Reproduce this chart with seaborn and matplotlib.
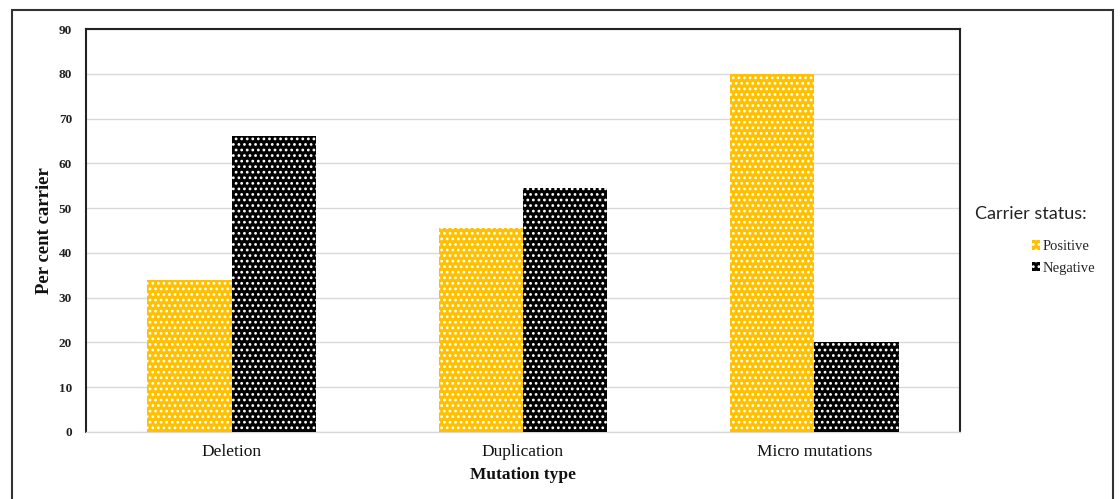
import matplotlib
matplotlib.use("Agg")
import matplotlib.pyplot as plt
import matplotlib.patches as mpatches
import seaborn as sns
import pandas as pd

categories = ["Deletion", "Duplication", "Micro mutations"]
positive = [34, 45.5, 80]
negative = [66, 54.5, 20]
statuses = ["Positive", "Negative"]
yticks = [0, 10, 20, 30, 40, 50, 60, 70, 80, 90]

df = pd.DataFrame({
    "Mutation type": categories * 2,
    "Percent": positive + negative,
    "Carrier status": ["Positive"] * 3 + ["Negative"] * 3,
})

sns.set_theme(style="white")
plt.rcParams["font.family"] = ["Liberation Serif", "DejaVu Serif"]
plt.rcParams["hatch.linewidth"] = 1.2

fig = plt.figure(figsize=(11.2, 4.99), dpi=100)
ax = fig.add_axes([86 / 1120, 1 - 432 / 499, (960 - 86) / 1120, (432 - 29) / 499])

palette = {"Positive": "#FFC000", "Negative": "#000000"}
sns.barplot(data=df, x="Mutation type", y="Percent", hue="Carrier status",
            hue_order=statuses, palette=palette, width=0.578, saturation=1,
            ax=ax, legend=False, zorder=3)

HATCH = "..."
for p in ax.patches:
    p.set_hatch(HATCH)
    p.set_edgecolor("white")
    p.set_linewidth(0)

ax.set_ylim(0, 90)
ax.set_yticks(yticks)
ax.set_yticklabels([str(t) for t in yticks], fontsize=9.5, fontweight="bold",
                   color="#222222")
ax.tick_params(axis="x", labelsize=12.5, length=0, pad=9, labelcolor="#111111")
ax.tick_params(axis="y", length=0, pad=10)
ax.yaxis.grid(True, color="#D9D9D9", linewidth=1, zorder=0)
ax.set_axisbelow(True)
for s in ["left", "right", "top"]:
    ax.spines[s].set_color("#222222")
    ax.spines[s].set_linewidth(1.5)
ax.spines["bottom"].set_color("#D9D9D9")
ax.spines["bottom"].set_linewidth(1)

ax.set_xlabel("Mutation type", fontsize=12.5, fontweight="bold", labelpad=5,
              color="#111111")
ax.set_ylabel("Per cent carrier", fontsize=13.5, fontweight="bold", labelpad=4,
              color="#111111")

handles = [mpatches.Rectangle((0, 0), 1, 1, facecolor=palette[s], hatch="...",
                              edgecolor="white", linewidth=0) for s in statuses]
fig.legend(handles, statuses, loc="upper left",
           bbox_to_anchor=(1019 / 1120, 1 - 227 / 499), frameon=False,
           handlelength=0.55, handleheight=0.6, handletextpad=0.15,
           labelspacing=0.6, prop={"family": "Liberation Serif", "size": 10.5})
fig.text(975 / 1120, 1 - 214 / 499, "Carrier status:", fontsize=13,
         family=["Lato", "DejaVu Sans"], va="center", ha="left", color="#222222")

border = mpatches.Rectangle((12 / 1120, -0.05), (1113 - 12) / 1120, 1.05 - 10 / 499,
                            transform=fig.transFigure, fill=False,
                            edgecolor="#333333", linewidth=1.5)
fig.patches.append(border)

fig.savefig("out.png", dpi=100)
